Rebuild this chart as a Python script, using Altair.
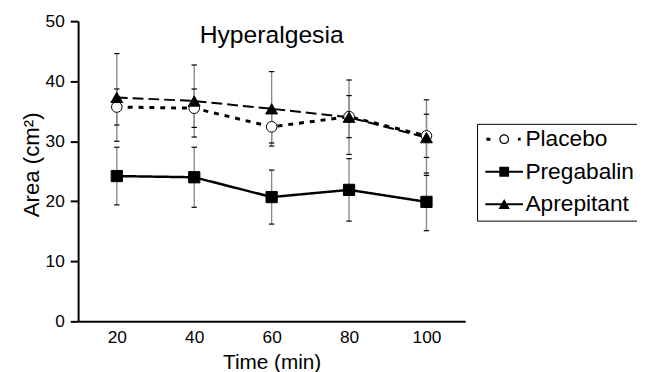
import altair as alt
import pandas as pd

# ---- data ----
times = [20, 40, 60, 80, 100]
series_names = ["Placebo", "Pregabalin", "Aprepitant"]
placebo_mean = [35.7, 35.5, 32.4, 34.1, 30.9]
placebo_err = [3.0, 3.2, 2.7, 3.5, 3.6]
pregabalin_mean = [24.2, 24.0, 20.7, 21.9, 19.9]
pregabalin_err = [4.8, 5.0, 4.5, 5.2, 4.8]
aprepitant_mean = [37.3, 36.7, 35.4, 34.0, 30.6]
aprepitant_err = [7.3, 6.0, 6.2, 6.2, 6.3]
y_ticks = [0, 10, 20, 30, 40, 50]

means = {"Placebo": placebo_mean, "Pregabalin": pregabalin_mean, "Aprepitant": aprepitant_mean}
errs = {"Placebo": placebo_err, "Pregabalin": pregabalin_err, "Aprepitant": aprepitant_err}

rows = []
for s in series_names:
    for t, m, e in zip(times, means[s], errs[s]):
        rows.append({"time": t, "series": s, "mean": m, "lo": m - e, "hi": m + e})
df = pd.DataFrame(rows)

FONT = "Liberation Sans"

# legend symbols (custom paths: line segment + marker)
legend_paths = [
    "M-1.64,-0.14H-1.27V0.14H-1.64Z "
    "M-0.45,0A0.45,0.45,0,1,0,0.45,0A0.45,0.45,0,1,0,-0.45,0Z "
    "M-0.34,0A0.34,0.34,0,1,1,0.34,0A0.34,0.34,0,1,1,-0.34,0Z "
    "M1.27,-0.12H1.52V0.12H1.27Z",
    "M-1.73,-0.09H1.73V0.09H-1.73Z M-0.45,-0.45H0.45V0.45H-0.45Z",
    "M-1.73,-0.09H1.73V0.09H-1.73Z M0,-0.5L0.52,0.42L-0.52,0.42Z",
]

x_enc = alt.X(
    "time:Q",
    scale=alt.Scale(domain=[10, 110], nice=False, zero=False),
    axis=alt.Axis(
        values=times, tickSize=0, labelFontSize=17.5, labelPadding=7,
        title="Time (min)", titleFontSize=21, titlePadding=6,
        titleFontWeight="normal", grid=False,
    ),
)
y_scale = alt.Scale(domain=[0, 50], nice=False)
y_axis = alt.Axis(
    values=y_ticks, tickSize=8, tickWidth=2, labelFontSize=17.5, labelPadding=6,
    title="Area (cm²)", titleFontSize=22.5, titlePadding=2, titleY=145,
    titleFontWeight="normal", grid=False,
)

base = alt.Chart(df)

err_rules = base.mark_rule(color="#8c8c8c", strokeWidth=1.4).encode(
    x=x_enc,
    y=alt.Y("lo:Q", scale=y_scale, axis=y_axis),
    y2="hi:Q",
)

caps = base.transform_fold(["lo", "hi"], as_=["which", "val"]).mark_point(
    shape="M-1,0L1,0", size=30, stroke="black", strokeWidth=1.2, filled=False, opacity=1
).encode(x=x_enc, y=alt.Y("val:Q", scale=y_scale, axis=y_axis))

lines = base.mark_line(color="black").encode(
    x=x_enc,
    y=alt.Y("mean:Q", scale=y_scale, axis=y_axis),
    detail="series:N",
    strokeDash=alt.StrokeDash(
        "series:N",
        scale=alt.Scale(domain=series_names, range=[[5, 6], [1, 0], [11, 5]]),
        legend=None,
    ),
    strokeWidth=alt.StrokeWidth(
        "series:N", scale=alt.Scale(domain=series_names, range=[3, 2, 2.5]), legend=None
    ),
)

points = base.mark_point(stroke="black", strokeWidth=1, opacity=1).encode(
    x=x_enc,
    y=alt.Y("mean:Q", scale=y_scale, axis=y_axis),
    shape=alt.Shape(
        "series:N",
        scale=alt.Scale(domain=series_names, range=["circle", "square", "triangle-up"]),
        legend=None,
    ),
    fill=alt.Fill(
        "series:N",
        scale=alt.Scale(domain=series_names, range=["white", "black", "black"]),
        legend=None,
    ),
    size=alt.Size(
        "series:N", scale=alt.Scale(domain=series_names, range=[115, 144, 170]), legend=None
    ),
)

legend_layer = base.mark_point(filled=True, color="black", opacity=0).encode(
    x=x_enc,
    y=alt.Y("mean:Q", scale=y_scale, axis=y_axis),
    shape=alt.Shape(
        "series:N",
        scale=alt.Scale(domain=series_names, range=legend_paths),
        legend=alt.Legend(
            title=None, orient="none", legendX=404, legendY=104,
            strokeColor="black", padding=4, cornerRadius=0,
            symbolSize=484, symbolOpacity=1, symbolFillColor="black",
            symbolStrokeWidth=0, symbolOffset=12, labelOffset=10,
            labelFontSize=23, labelFont=FONT, labelColor="black",
            rowPadding=9, labelLimit=300,
        ),
    ),
)

chart = (
    alt.layer(err_rules, caps, lines, points, legend_layer)
    .resolve_scale(shape="independent")
    .properties(
        width=392,
        height=304,
        title=alt.TitleParams(
            "Hyperalgesia", fontSize=25, font=FONT, fontWeight="normal",
            anchor="middle", frame="group", baseline="alphabetic",
            offset=0, dy=56, color="black",
        ),
        autosize=alt.AutoSizeParams(type="none"),
        padding={"left": 71, "top": 11, "right": 174, "bottom": 52},
    )
    .configure(font=FONT)
    .configure_axis(
        domainColor="black", domainWidth=2, tickColor="black",
        labelColor="black", titleColor="black", labelFont=FONT, titleFont=FONT,
    )
    .configure_view(strokeWidth=0)
)

chart.save("out.html", embed_options={"renderer": "svg", "actions": False})
